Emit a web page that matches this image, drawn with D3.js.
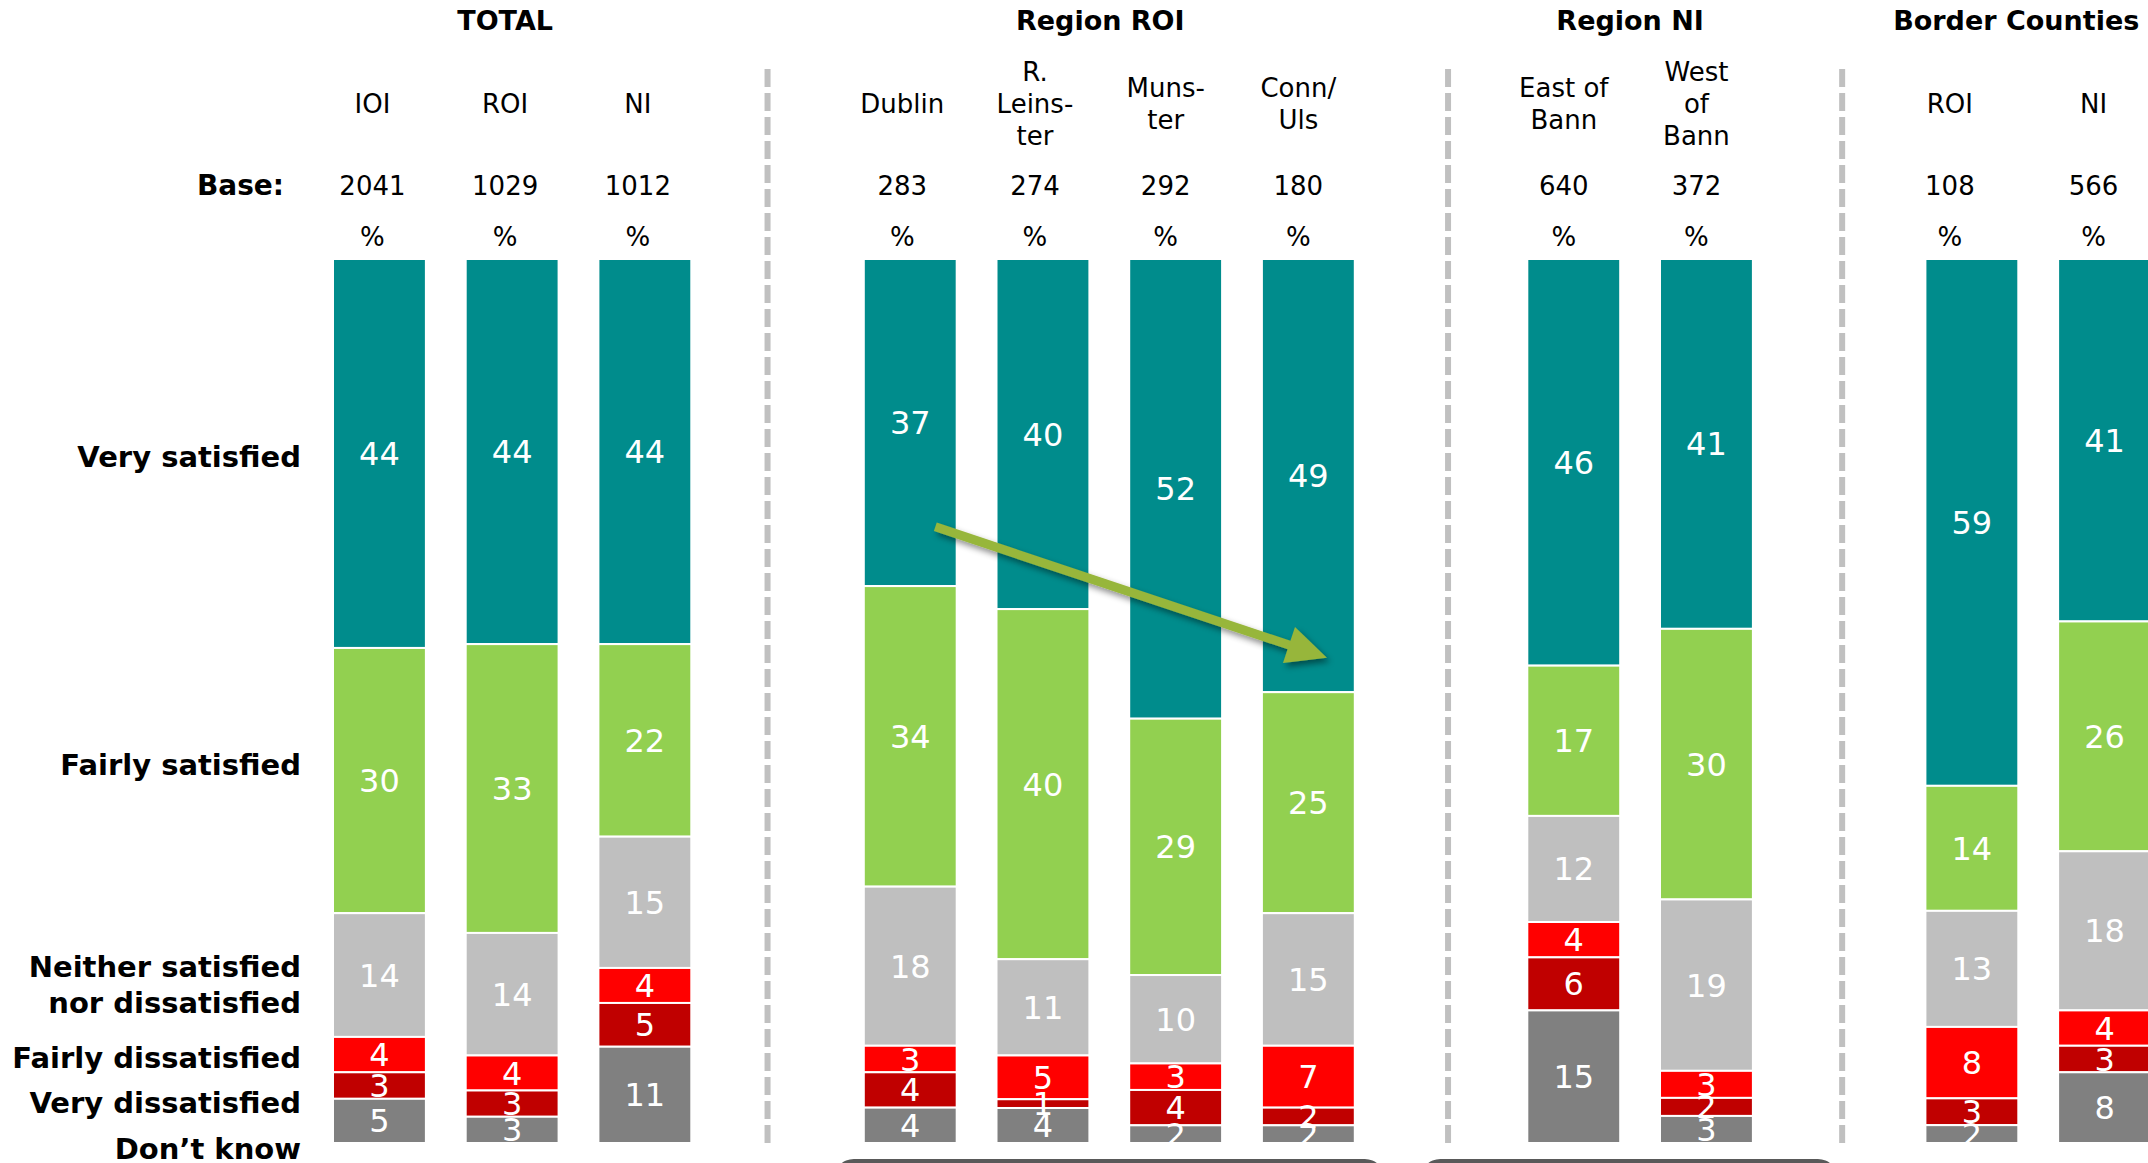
<!DOCTYPE html>
<html>
<head>
<meta charset="utf-8">
<script src="https://cdn.jsdelivr.net/npm/d3@7"></script>
<style>
  body { margin: 0; background: #fff; overflow: hidden; }
  text { font-family: "DejaVu Sans", Verdana, sans-serif; }
</style>
</head>
<body>
<div id="my_dataviz"></div>
<script>
// data
var groups = ["TOTAL", "Region ROI", "Region NI", "Border Counties"];
var columns = ["IOI", "ROI", "NI", "Dublin", "R. Leinster", "Munster", "Conn/Uls",
  "East of Bann", "West of Bann", "Border ROI", "Border NI"];
var columnLabels = [["IOI"], ["ROI"], ["NI"], ["Dublin"], ["R.", "Leins-", "ter"], ["Muns-", "ter"],
  ["Conn/", "Uls"], ["East of", "Bann"], ["West", "of", "Bann"], ["ROI"], ["NI"]];
var columnGroup = [0, 0, 0, 1, 1, 1, 1, 2, 2, 3, 3];
var bases = [2041, 1029, 1012, 283, 274, 292, 180, 640, 372, 108, 566];

var responses = ["Very satisfied", "Fairly satisfied", "Neither satisfied nor dissatisfied",
  "Fairly dissatisfied", "Very dissatisfied", "Don\u2019t know"];
var verySatisfied = [44, 44, 44, 37, 40, 52, 49, 46, 41, 59, 41];
var fairlySatisfied = [30, 33, 22, 34, 40, 29, 25, 17, 30, 14, 26];
var neither = [14, 14, 15, 18, 11, 10, 15, 12, 19, 13, 18];
var fairlyDissatisfied = [4, 4, 4, 3, 5, 3, 7, 4, 3, 8, 4];
var veryDissatisfied = [3, 3, 5, 4, 1, 4, 2, 6, 2, 3, 3];
var dontKnow = [5, 3, 11, 4, 4, 2, 2, 15, 3, 2, 8];

var colors = ["#008c8c", "#92d050", "#bfbfbf", "#ff0000", "#c00000", "#808080"];

// layout
var width = 2148, height = 1163;
var barTop = 259, barBottom = 1143;
// slots include empty gaps between the groups
var slots = ["IOI", "ROI", "NI", "gap1", "Dublin", "R. Leinster", "Munster", "Conn/Uls", "gap2",
  "East of Bann", "West of Bann", "gap3", "Border ROI", "Border NI"];
var gapShift = [-10, 7, 3];
var titleShift = [-7, -9, -10, -22];
var headShift = [-7, -7, -7, -8, -8, -10, -10, -10, -10, -22, -11];
var labelY = [[467], [775], [977, 1013], [1068], [1113], [1159]];
var labelLines = [["Very satisfied"], ["Fairly satisfied"], ["Neither satisfied", "nor dissatisfied"],
  ["Fairly dissatisfied"], ["Very dissatisfied"], ["Don\u2019t know"]];

var svg = d3.select("#my_dataviz")
  .append("svg")
  .attr("width", width)
  .attr("height", height);

var x = d3.scaleBand()
  .domain(slots)
  .range([333, 2151])
  .paddingInner(0.3)
  .paddingOuter(0);

var y = d3.scaleLinear()
  .domain([0, 1])
  .range([barTop, barBottom]);

// table for the stack
var seriesArrays = [verySatisfied, fairlySatisfied, neither, fairlyDissatisfied, veryDissatisfied, dontKnow];
var table = columns.map(function (c, i) {
  var row = { col: c };
  responses.forEach(function (r, k) { row[r] = seriesArrays[k][i]; });
  return row;
});

var stack = d3.stack()
  .keys(responses)
  .offset(d3.stackOffsetExpand);
var stacked = stack(table);

// dashed separators
var gaps = ["gap1", "gap2", "gap3"];
svg.selectAll("line.sep")
  .data(gaps)
  .enter()
  .append("line")
  .attr("class", "sep")
  .attr("x1", function (d, i) { return x(d) + x.bandwidth() / 2 + gapShift[i]; })
  .attr("x2", function (d, i) { return x(d) + x.bandwidth() / 2 + gapShift[i]; })
  .attr("y1", 69)
  .attr("y2", barBottom)
  .attr("stroke", "#c0c0c0")
  .attr("stroke-width", 6)
  .attr("stroke-dasharray", "18,6");

// Bars
var layers = svg.selectAll("g.layer")
  .data(stacked)
  .enter()
  .append("g")
  .attr("class", "layer")
  .attr("fill", function (d, i) { return colors[i]; });

layers.selectAll("rect")
  .data(function (d) { return d; })
  .enter()
  .append("rect")
  .attr("x", function (d) { return x(d.data.col); })
  .attr("width", x.bandwidth())
  .attr("y", function (d) { return y(d[0]); })
  .attr("height", function (d) { return y(d[1]) - y(d[0]); })
  .attr("stroke", "#fff")
  .attr("stroke-width", 2);

// value labels
stacked.forEach(function (layer, k) {
  svg.append("g")
    .selectAll("text")
    .data(layer)
    .enter()
    .append("text")
    .attr("x", function (d) { return x(d.data.col) + x.bandwidth() / 2; })
    .attr("y", function (d) { return (y(d[0]) + y(d[1])) / 2; })
    .attr("dy", "0.36em")
    .attr("text-anchor", "middle")
    .attr("fill", "#fff")
    .style("font-size", "32px")
    .text(function (d) { return seriesArrays[k][columns.indexOf(d.data.col)]; });
});

// arrow annotation (Dublin -> Conn/Uls)
var defs = svg.append("defs");
var filter = defs.append("filter").attr("id", "shadow")
  .attr("x", "-20%").attr("y", "-20%").attr("width", "140%").attr("height", "160%");
filter.append("feDropShadow")
  .attr("dx", 3).attr("dy", 4).attr("stdDeviation", 3)
  .attr("flood-color", "#000").attr("flood-opacity", 0.45);

var ax0 = x("Dublin") + x.bandwidth() * 0.77, ay0 = y(0.303);
var ax1 = x("Conn/Uls") + x.bandwidth() * 0.70, ay1 = y(0.451);
var ang = Math.atan2(ay1 - ay0, ax1 - ax0);
var headLen = 40, headHalf = 19;
var bx = ax1 - headLen * Math.cos(ang), by = ay1 - headLen * Math.sin(ang);
var arrow = svg.append("g").attr("filter", "url(#shadow)");
arrow.append("line")
  .attr("x1", ax0).attr("y1", ay0)
  .attr("x2", bx + 4 * Math.cos(ang)).attr("y2", by + 4 * Math.sin(ang))
  .attr("stroke", "#97b63b")
  .attr("stroke-width", 9);
arrow.append("polygon")
  .attr("points", [
    [ax1, ay1],
    [bx - headHalf * Math.sin(ang), by + headHalf * Math.cos(ang)],
    [bx + headHalf * Math.sin(ang), by - headHalf * Math.cos(ang)]
  ].map(function (p) { return p.join(","); }).join(" "))
  .attr("fill", "#97b63b");

// group titles
svg.selectAll("text.title")
  .data(groups)
  .enter()
  .append("text")
  .attr("class", "title")
  .attr("x", function (d, i) {
    var cols = columns.filter(function (c, j) { return columnGroup[j] === i; });
    var left = x(cols[0]), right = x(cols[cols.length - 1]) + x.bandwidth();
    return (left + right) / 2 + titleShift[i];
  })
  .attr("y", 30)
  .attr("text-anchor", "middle")
  .style("font-size", "27px")
  .style("font-weight", "bold")
  .text(function (d) { return d; });

// column headers
var head = svg.selectAll("g.head")
  .data(columns)
  .enter()
  .append("g")
  .attr("class", "head")
  .attr("transform", function (d, i) { return "translate(" + (x(d) + x.bandwidth() / 2 + headShift[i]) + ",0)"; });

head.each(function (d, i) {
  var lines = columnLabels[i];
  var first = 113 - (lines.length - 1) * 16;
  var g = d3.select(this);
  lines.forEach(function (t, k) {
    g.append("text")
      .attr("y", first + k * 32)
      .attr("text-anchor", "middle")
      .style("font-size", "26px")
      .text(t);
  });
  g.append("text")
    .attr("y", 195)
    .attr("text-anchor", "middle")
    .style("font-size", "26px")
    .text(bases[i]);
  g.append("text")
    .attr("y", 246)
    .attr("text-anchor", "middle")
    .style("font-size", "26px")
    .text("%");
});

svg.append("text")
  .attr("x", 284)
  .attr("y", 195)
  .attr("text-anchor", "end")
  .style("font-size", "28px")
  .style("font-weight", "bold")
  .text("Base:");

// response labels on the left
labelLines.forEach(function (lines, k) {
  lines.forEach(function (t, j) {
    svg.append("text")
      .attr("x", 301)
      .attr("y", labelY[k][j])
      .attr("text-anchor", "end")
      .style("font-size", "29px")
      .style("font-weight", "bold")
      .text(t);
  });
});

// dark tabs cut off at the bottom edge
var tabs = [["Dublin", "Conn/Uls", -30, 30], ["East of Bann", "West of Bann", -107, 85]];
svg.selectAll("rect.tab")
  .data(tabs)
  .enter()
  .append("rect")
  .attr("class", "tab")
  .attr("x", function (d) { return x(d[0]) + d[2]; })
  .attr("width", function (d) { return x(d[1]) + x.bandwidth() + d[3] - x(d[0]) - d[2]; })
  .attr("y", 1159)
  .attr("height", 40)
  .attr("rx", 20)
  .attr("fill", "#595959");
</script>
</body>
</html>
